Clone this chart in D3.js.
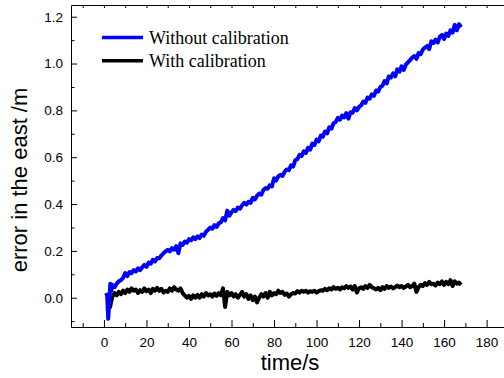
<!DOCTYPE html>
<html>
<head>
<meta charset="utf-8">
<script src="https://cdn.jsdelivr.net/npm/d3@7"></script>
<style>
  body { margin: 0; background: #fff; }
  svg { display: block; }
</style>
</head>
<body>
<div id="chart"></div>
<script>
// Data: [time (s), error (m)]
const withoutCalibration = [
  [1,0.02],[1.5,0.01],[2,-0.09],[2.5,-0.02],[3,0.06],[3.5,0.03],[4,0.055],[5,0.045],[6,0.06],[7,0.07],
  [8,0.075],[9,0.085],[10,0.105],[11,0.092],[12,0.11],[13,0.105],[14,0.118],[15,0.112],[16,0.125],[17,0.118],
  [18,0.13],[19,0.14],[20,0.132],[21,0.15],[22,0.145],[23,0.162],[24,0.155],[25,0.17],[26,0.168],[27,0.18],
  [28,0.19],[29,0.198],[30,0.205],[31,0.198],[32,0.212],[33,0.205],[34,0.22],[35,0.19],[36,0.232],[37,0.226],
  [38,0.24],[39,0.235],[40,0.25],[41,0.245],[42,0.258],[43,0.25],[44,0.262],[45,0.255],[46,0.27],[47,0.265],
  [48,0.282],[49,0.29],[50,0.3],[51,0.295],[52,0.31],[53,0.302],[54,0.318],[55,0.322],[56,0.34],[57,0.33],
  [58,0.372],[59,0.35],[60,0.365],[61,0.375],[62,0.37],[63,0.385],[64,0.38],[65,0.395],[66,0.405],[67,0.398],
  [68,0.41],[69,0.405],[70,0.427],[71,0.42],[72,0.435],[73,0.445],[74,0.44],[75,0.46],[76,0.468],[77,0.465],
  [78,0.48],[79,0.475],[80,0.51],[81,0.5],[82,0.518],[83,0.525],[84,0.52],[85,0.538],[86,0.548],[87,0.545],
  [88,0.565],[89,0.56],[90,0.588],[91,0.592],[92,0.61],[93,0.605],[94,0.625],[95,0.618],[96,0.64],[97,0.632],
  [98,0.658],[99,0.652],[100,0.675],[101,0.668],[102,0.692],[103,0.688],[104,0.71],[105,0.702],[106,0.728],[107,0.722],
  [108,0.745],[109,0.75],[110,0.768],[111,0.76],[112,0.778],[113,0.77],[114,0.788],[115,0.765],[116,0.792],[117,0.79],
  [118,0.81],[119,0.8],[120,0.815],[121,0.822],[122,0.838],[123,0.832],[124,0.855],[125,0.85],[126,0.868],[127,0.862],
  [128,0.885],[129,0.88],[130,0.9],[131,0.905],[132,0.925],[133,0.915],[134,0.945],[135,0.94],[136,0.958],[137,0.945],
  [138,0.975],[139,0.965],[140,0.988],[141,0.972],[142,0.995],[143,1.005],[144,1.015],[145,1.025],[146,1.032],[147,1.02],
  [148,1.045],[149,1.04],[150,1.06],[151,1.068],[152,1.075],[153,1.062],[154,1.095],[155,1.088],[156,1.102],[157,1.09],
  [158,1.115],[159,1.122],[160,1.105],[161,1.128],[162,1.118],[163,1.142],[164,1.132],[165,1.165],[166,1.142],[167,1.168],
  [168,1.155]
];

const withCalibration = [
  [2.8,-0.045],[3.3,-0.02],[4,0.005],[5,0.02],[6,0.01],[7,0.025],[8,0.015],[9,0.03],[10,0.02],[11,0.035],
  [12,0.025],[13,0.04],[14,0.03],[15,0.035],[16,0.02],[17,0.032],[18,0.025],[19,0.04],[20,0.028],[21,0.035],
  [22,0.02],[23,0.038],[24,0.03],[25,0.042],[26,0.03],[27,0.038],[28,0.022],[29,0.03],[30,0.025],[31,0.04],
  [32,0.03],[33,0.045],[34,0.035],[35,0.03],[36,0.04],[37,0.02],[38,0.01],[39,0.0],[40,0.008],[41,-0.005],
  [42,0.01],[43,0.0],[44,0.012],[45,0.0],[46,0.015],[47,0.005],[48,0.02],[49,0.01],[50,0.015],[51,0.005],
  [52,0.018],[53,0.008],[54,0.02],[55,0.01],[56,0.04],[57,-0.04],[58,0.025],[59,0.01],[60,0.02],[61,0.005],
  [62,0.015],[63,0.0],[64,0.012],[65,0.025],[66,0.005],[67,0.015],[68,-0.005],[69,0.01],[70,-0.01],[71,0.005],
  [72,-0.02],[73,0.0],[74,0.015],[75,0.005],[76,0.02],[77,0.0],[78,0.025],[79,0.01],[80,0.02],[81,0.015],
  [82,0.03],[83,0.02],[84,0.025],[85,0.012],[86,0.018],[87,0.005],[88,0.015],[89,0.02],[90,0.018],[91,0.028],
  [92,0.022],[93,0.03],[94,0.025],[95,0.03],[96,0.022],[97,0.028],[98,0.025],[99,0.03],[100,0.022],[101,0.028],
  [102,0.032],[103,0.03],[104,0.038],[105,0.032],[106,0.04],[107,0.035],[108,0.045],[109,0.038],[110,0.042],[111,0.035],
  [112,0.045],[113,0.04],[114,0.05],[115,0.042],[116,0.048],[117,0.035],[118,0.05],[119,0.022],[120,0.04],[121,0.045],
  [122,0.038],[123,0.05],[124,0.042],[125,0.055],[126,0.045],[127,0.04],[128,0.035],[129,0.042],[130,0.032],[131,0.045],
  [132,0.038],[133,0.05],[134,0.042],[135,0.048],[136,0.04],[137,0.045],[138,0.052],[139,0.045],[140,0.05],[141,0.042],
  [142,0.048],[143,0.055],[144,0.045],[145,0.05],[146,0.06],[147,0.025],[148,0.045],[149,0.055],[150,0.05],[151,0.062],
  [152,0.055],[153,0.068],[154,0.058],[155,0.06],[156,0.052],[157,0.065],[158,0.058],[159,0.07],[160,0.055],[161,0.068],
  [162,0.058],[163,0.075],[164,0.05],[165,0.07],[166,0.06],[167,0.065],[168,0.055]
];

const xTicks = [0, 20, 40, 60, 80, 100, 120, 140, 160, 180];
const xMinorTicks = [-10, 10, 30, 50, 70, 90, 110, 130, 150, 170, 190];
const yTicks = [0.0, 0.2, 0.4, 0.6, 0.8, 1.0, 1.2];
const yMinorTicks = [-0.1, 0.1, 0.3, 0.5, 0.7, 0.9, 1.1];
const seriesNames = ["Without calibration", "With calibration"];
const seriesColors = ["#0000ff", "#000000"];

// Chart size
const W = 504, H = 378;
const plotLeft = 71, plotTop = 5, plotBottom = 327;

const x = d3.scaleLinear().domain([-15.5, 195]).range([plotLeft, 518.5]);
const y = d3.scaleLinear().domain([-0.125, 1.25]).range([plotBottom, plotTop]);

const svg = d3.select("#chart")
  .append("svg")
  .attr("width", W)
  .attr("height", H);

// Garis data (black first, blue on top)
const line = d3.line().x(d => x(d[0])).y(d => y(d[1]));

svg.append("path")
  .datum(withCalibration)
  .attr("fill", "none")
  .attr("stroke", seriesColors[1])
  .attr("stroke-width", 4)
  .attr("stroke-linejoin", "round")
  .attr("d", line);

svg.append("path")
  .datum(withoutCalibration)
  .attr("fill", "none")
  .attr("stroke", seriesColors[0])
  .attr("stroke-width", 4)
  .attr("stroke-linejoin", "round")
  .attr("d", line);

// Sumbu x bawah (ticks pointing inward)
const xAxis = svg.append("g")
  .attr("transform", "translate(0," + plotBottom + ")")
  .call(d3.axisBottom(x).tickValues(xTicks).tickSizeInner(-7).tickSizeOuter(0).tickPadding(10).tickFormat(d3.format("d")));
xAxis.selectAll("text").style("font-family", "'Liberation Sans', Arial, sans-serif").style("font-size", "13.5px").attr("fill", "#000");

svg.append("g")
  .attr("transform", "translate(0," + plotBottom + ")")
  .call(d3.axisBottom(x).tickValues(xMinorTicks).tickSizeInner(-4).tickSizeOuter(0).tickFormat(""))
  .select(".domain").remove();

// Sumbu atas (only ticks)
svg.append("g")
  .attr("transform", "translate(0," + plotTop + ")")
  .call(d3.axisTop(x).tickValues(xTicks.concat(xMinorTicks)).tickSizeInner(-3).tickSizeOuter(0).tickFormat(""));

// Sumbu y kiri
const yAxis = svg.append("g")
  .attr("transform", "translate(" + plotLeft + ",0)")
  .call(d3.axisLeft(y).tickValues(yTicks).tickSizeInner(-6).tickSizeOuter(0).tickPadding(8).tickFormat(d3.format(".1f")));
yAxis.selectAll("text").style("font-family", "'Liberation Sans', Arial, sans-serif").style("font-size", "13.5px").attr("fill", "#000");

svg.append("g")
  .attr("transform", "translate(" + plotLeft + ",0)")
  .call(d3.axisLeft(y).tickValues(yMinorTicks).tickSizeInner(-3.5).tickSizeOuter(0).tickFormat(""))
  .select(".domain").remove();

svg.selectAll(".domain, .tick line").attr("stroke", "#000").attr("stroke-width", 1);

// Judul sumbu
svg.append("text")
  .attr("x", 290)
  .attr("y", 370)
  .attr("text-anchor", "middle")
  .style("font-family", "'Liberation Sans', Arial, sans-serif")
  .style("font-size", "22px")
  .text("time/s");

svg.append("text")
  .attr("transform", "rotate(-90)")
  .attr("x", -180)
  .attr("y", 27)
  .attr("text-anchor", "middle")
  .style("font-family", "'Liberation Sans', Arial, sans-serif")
  .style("font-size", "22px")
  .text("error in the east /m");

// Legenda
const legend = svg.append("g");
seriesNames.forEach(function(name, i) {
  const ly = 37.5 + i * 23.3;
  legend.append("line")
    .attr("x1", 102).attr("x2", 143)
    .attr("y1", ly).attr("y2", ly)
    .attr("stroke", seriesColors[i])
    .attr("stroke-width", 3.5);
  legend.append("text")
    .attr("x", 149)
    .attr("y", ly + 6.5)
    .style("font-family", "'Liberation Serif', 'Times New Roman', serif")
    .style("font-size", "18px")
    .text(name);
});
</script>
</body>
</html>
